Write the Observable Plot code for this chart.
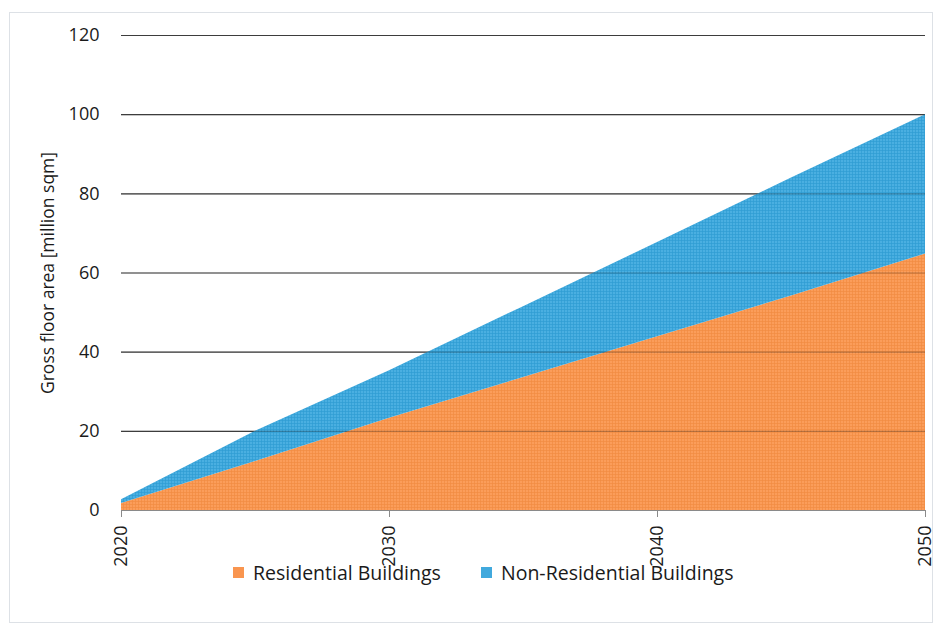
<!DOCTYPE html>
<html><head><meta charset="utf-8">
<script src="https://cdn.jsdelivr.net/npm/d3@7"></script>
<script src="https://cdn.jsdelivr.net/npm/@observablehq/plot@0.6"></script>
<style>
body{margin:0;background:#fff;font-family:"Open Sans",sans-serif;}
#wrap{position:relative;width:935px;height:626px;overflow:hidden;}
#frame{position:absolute;left:9px;top:12px;width:924px;height:611px;border:1px solid #dde1e6;box-sizing:border-box;}
#chart{position:absolute;left:0;top:0;}
#legend{position:absolute;top:558px;left:0;width:935px;height:28px;font-size:19.5px;color:#1a1a1a;white-space:nowrap;}
.sw{display:inline-block;width:11px;height:11px;margin-right:9px;}
.item{position:absolute;top:0;display:flex;align-items:center;height:28px;}
</style></head>
<body><div id="wrap"><div id="frame"></div><div id="chart"></div><div id="legend"></div></div>
<script>
const years = [2020, 2025, 2030, 2035, 2040, 2045, 2050];
const residential = [1.8, 12.4, 23.3, 33.6, 43.9, 54.2, 64.8];
const nonResidential = [0.9, 7.6, 12.0, 17.9, 23.8, 29.8, 35.2];
const seriesNames = ["Residential Buildings", "Non-Residential Buildings"];
const yTicks = [0, 20, 40, 60, 80, 100, 120];
const xTicks = [2020, 2030, 2040, 2050];
const yLabel = "Gross floor area [million sqm]";

const data = [];
years.forEach((yr, i) => {
  data.push({year: yr, series: seriesNames[0], value: residential[i]});
  data.push({year: yr, series: seriesNames[1], value: nonResidential[i]});
});

const swatch = ["#F9954F", "#41A9DD"];
const legendLeft = [233, 481];
const gridVals = yTicks.filter(d => d > 0);

const chart = Plot.plot({
  width: 935, height: 585,
  marginLeft: 121, marginRight: 10, marginTop: 35, marginBottom: 75,
  style: {fontFamily: "'Open Sans', sans-serif", fontSize: "18px", color: "#1a1a1a", background: "transparent"},
  x: {domain: [2020, 2050], label: null},
  y: {domain: [0, 120], label: null},
  color: {domain: seriesNames, range: ["url(#pOrange)", "url(#pBlue)"]},
  marks: [
    Plot.ruleY(gridVals, {stroke: "#555", strokeWidth: 1.2}),
    Plot.areaY(data, {x: "year", y: "value", fill: "series", z: "series", order: seriesNames}),
    Plot.ruleY(gridVals, {stroke: "#000", strokeOpacity: 0.28, strokeWidth: 1.2}),
    Plot.ruleY([0], {stroke: "#8a8a8a", strokeWidth: 1.2}),
    Plot.axisX({ticks: xTicks, tickFormat: d => String(d), tickRotate: -90, tickSize: 7, tickPadding: 8, stroke: "#8a8a8a", label: null, fontSize: 18}),
    Plot.axisY({ticks: yTicks, tickSize: 0, tickPadding: 22, label: null, fontSize: 18}),
    Plot.text([yLabel], {frameAnchor: "left", dx: -73, rotate: -90, textAnchor: "middle", fontSize: 17.5, fill: "#1a1a1a"})
  ]
});

const ns = "http://www.w3.org/2000/svg";
const defs = document.createElementNS(ns, "defs");
defs.innerHTML = `
<pattern id="pOrange" width="3" height="3" patternUnits="userSpaceOnUse">
  <rect width="3" height="3" fill="#FB9D5A"/>
  <path d="M0 0.5H3M0.5 0V3" stroke="#F28C42" stroke-width="1" stroke-opacity="0.7"/>
</pattern>
<pattern id="pBlue" width="3" height="3" patternUnits="userSpaceOnUse">
  <rect width="3" height="3" fill="#4AAFE1"/>
  <path d="M0 0.5H3M0.5 0V3" stroke="#2F9DD3" stroke-width="1" stroke-opacity="0.7"/>
</pattern>`;
chart.insertBefore(defs, chart.firstChild);
document.getElementById("chart").appendChild(chart);

const leg = document.getElementById("legend");
seriesNames.forEach((name, i) => {
  const it = document.createElement("div");
  it.className = "item";
  it.style.left = legendLeft[i] + "px";
  it.innerHTML = `<span class="sw" style="background:${swatch[i]}"></span><span>${name}</span>`;
  leg.appendChild(it);
});
</script></body></html>
